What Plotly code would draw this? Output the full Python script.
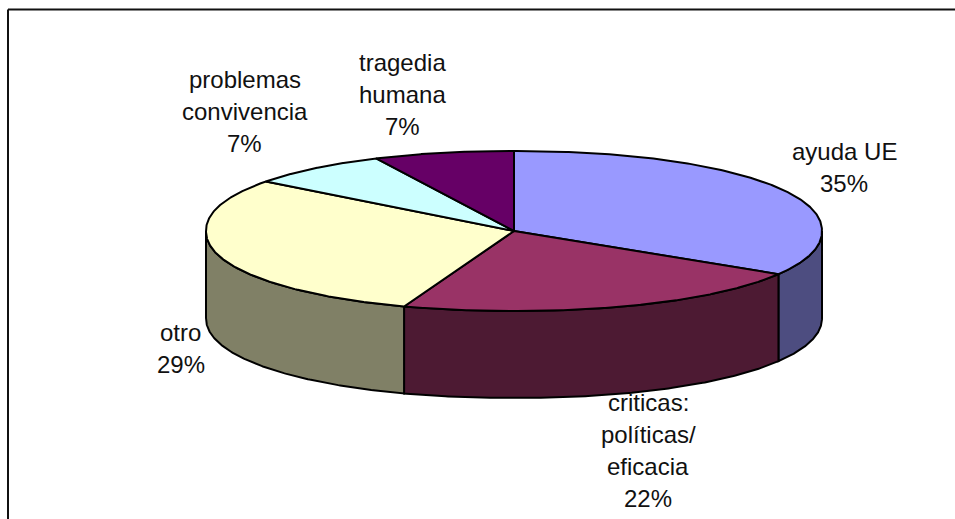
import numpy as np
import plotly.graph_objects as go

# Data
categories = ["ayuda UE", "criticas: políticas/ eficacia", "otro", "problemas convivencia", "tragedia humana"]
values = [35, 22, 29, 7, 7]
label_lines = [
    ["ayuda UE", "35%"],
    ["criticas:", "políticas/", "eficacia", "22%"],
    ["otro", "29%"],
    ["problemas", "convivencia", "7%"],
    ["tragedia", "humana", "7%"],
]
top_colors = ["#9999FF", "#993366", "#FFFFCC", "#CCFFFF", "#660066"]
side_colors = ["#4D4D80", "#4D1A33", "#808066", "#668080", "#330033"]

# Layout of the drawing (page pixels)
WIDTH, HEIGHT = 955, 519
CX, CY, RX, RY, DEPTH = 514, 231, 308, 80, 87
ROUNDNESS = 2.1  # the outline is slightly fuller than a true ellipse
label_centers = [(844, 151), (648, 402), (180.5, 332), (244.5, 79), (402, 62)]
LINE_STEP = 32
FONT = dict(family="Liberation Sans, Arial, sans-serif", size=24, color="#111111")


def apparent(t):
    """Angle as seen in the tilted pie, clockwise from the top (degrees)."""
    t = np.asarray(t, dtype=float)
    return t - 4.5 * np.sin(np.radians(t / 2)) + 0.2 * np.sin(np.radians(t))


def rim(theta, drop=0.0):
    r = np.radians(theta)
    s, c = np.sin(r), np.cos(r)
    k = (np.abs(s) ** ROUNDNESS + np.abs(c) ** ROUNDNESS) ** (-1 / ROUNDNESS)
    return CX + RX * k * s, CY - RY * k * c + drop


shares = np.array(values, dtype=float) / sum(values)
edges = np.concatenate([[0], np.cumsum(shares)]) * 360.0
angles = [float(apparent(e)) for e in edges]

fig = go.Figure()

# Side walls: only the part of each slice on the front half (90..270 degrees)
for i, name in enumerate(categories):
    lo, hi = max(angles[i], 90.0), min(angles[i + 1], 270.0)
    if hi <= lo:
        continue
    th = np.linspace(lo, hi, 160)
    x0, y0 = rim(th)
    x1, y1 = rim(th[::-1], DEPTH)
    fig.add_trace(go.Scatter(
        x=np.concatenate([x0, x1, x0[:1]]), y=np.concatenate([y0, y1, y0[:1]]),
        mode="lines", fill="toself", fillcolor=side_colors[i],
        line=dict(color="black", width=2), hoverinfo="skip", showlegend=False, name=name + " (lado)",
    ))

# Top faces
for i, name in enumerate(categories):
    th = np.linspace(angles[i], angles[i + 1], 240)
    xs, ys = rim(th)
    fig.add_trace(go.Scatter(
        x=np.concatenate([[CX], xs, [CX]]), y=np.concatenate([[CY], ys, [CY]]),
        mode="lines", fill="toself", fillcolor=top_colors[i],
        line=dict(color="black", width=2), name=name, showlegend=False,
        hovertemplate=name + ": %d%%<extra></extra>" % values[i],
    ))

# Labels, one annotation per text line
annotations = []
for lines, (lx, ly) in zip(label_lines, label_centers):
    for k, line in enumerate(lines):
        annotations.append(dict(
            x=lx, y=ly + k * LINE_STEP, xref="x", yref="y", text=line, showarrow=False,
            xanchor="center", yanchor="middle", font=FONT,
        ))

# Chart frame: only its top and left edges fall inside the picture
shapes = [
    dict(type="line", xref="x", yref="y", x0=8, y0=9.5, x1=WIDTH, y1=9.5, line=dict(color="#111111", width=2)),
    dict(type="line", xref="x", yref="y", x0=8, y0=9.5, x1=8, y1=HEIGHT, line=dict(color="#111111", width=2)),
]

fig.update_layout(
    width=WIDTH, height=HEIGHT, margin=dict(l=0, r=0, t=0, b=0),
    paper_bgcolor="white", plot_bgcolor="white", showlegend=False,
    xaxis=dict(range=[0, WIDTH], visible=False, fixedrange=True),
    yaxis=dict(range=[HEIGHT, 0], visible=False, fixedrange=True),
    annotations=annotations, shapes=shapes,
)
fig.write_html("out.html", config={"displayModeBar": False},
               post_script="document.body.style.margin='0';")
